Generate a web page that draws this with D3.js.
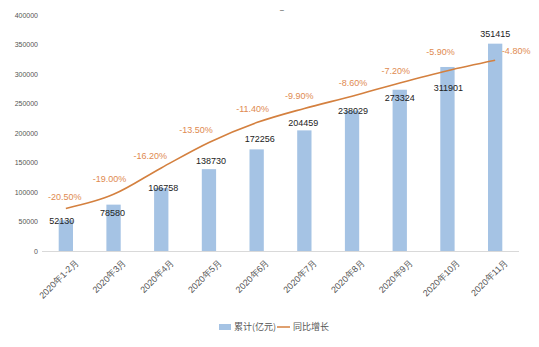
<!DOCTYPE html>
<html><head><meta charset="utf-8">
<script src="https://cdn.jsdelivr.net/npm/d3@7"></script>
<style>body{margin:0;background:#fff;}svg{display:block;font-family:"Noto Sans CJK SC","Liberation Sans",Arial,sans-serif;}</style>
</head><body><svg id="c" width="539" height="347"></svg>
<script>
const categories = ["2020年1-2月","2020年3月","2020年4月","2020年5月","2020年6月","2020年7月","2020年8月","2020年9月","2020年10月","2020年11月"];
const cumulative = [52130,78580,106758,138730,172256,204459,238029,273324,311901,351415];
const growth = [-20.5,-19.0,-16.2,-13.5,-11.4,-9.9,-8.6,-7.2,-5.9,-4.8];
const yTicks = [0,50000,100000,150000,200000,250000,300000,350000,400000];
const seriesNames = ["累计(亿元)","同比增长"];

// label placement offsets (layout, px)
const barLabelOffset = [[-4,1],[-1,8],[2,0],[2,-8],[3,-11],[-1,-8],[1,0],[0,8],[1,21],[0,-10]];
const lineLabelOffset = [[-1,-12],[-4,-16],[-11,-12],[-13,-13],[-4,-14],[-5,-13],[1,-13],[-4,-12],[-7,-19],[21,-9]];

(function(){
const svg = d3.select("#c");
const pl = 42, pr = 519, pt = 15, pb = 251;
const x = d3.scaleBand().domain(categories).range([pl,pr]).paddingInner(0.7).paddingOuter(0.35);
const y = d3.scaleLinear().domain([0,400000]).range([pb,pt]);
const y2 = d3.scaleLinear().domain([-25,0]).range([pb,pt]);
const cx = d => x(d) + x.bandwidth()/2;

const yAxis = svg.append("g").attr("transform",`translate(${pl},0)`)
  .call(d3.axisLeft(y).tickValues(yTicks).tickSize(0).tickPadding(4).tickFormat(d3.format("d")));
yAxis.select(".domain").remove();
yAxis.selectAll("text").attr("fill","#555").style("font-size","7px").style("font-family","Liberation Sans, Arial");

const xAxis = svg.append("g").attr("transform",`translate(0,${pb})`)
  .call(d3.axisBottom(x).tickSize(0).tickPadding(6));
xAxis.select(".domain").attr("stroke","#d9d9d9").attr("d",`M${pl},0.5H${pr}`);
xAxis.selectAll("text").attr("fill","#555").style("font-size","9px")
  .attr("text-anchor","end").attr("dy","0.3em")
  .attr("transform","translate(7,6) rotate(-45)");

svg.append("g").selectAll("rect").data(cumulative).join("rect")
  .attr("x",(d,i)=>x(categories[i])).attr("width",x.bandwidth())
  .attr("y",d=>y(d)).attr("height",d=>pb-y(d)).attr("fill","#a5c3e4");

const line = d3.line().x((d,i)=>cx(categories[i])).y(d=>y2(d)).curve(d3.curveMonotoneX);
svg.append("path").datum(growth).attr("d",line).attr("fill","none").attr("stroke","#d4803f").attr("stroke-width",1.6);

svg.append("g").selectAll("text").data(cumulative).join("text")
  .attr("x",(d,i)=>cx(categories[i])+barLabelOffset[i][0])
  .attr("y",(d,i)=>y(d)+barLabelOffset[i][1])
  .attr("dy","0.35em").attr("text-anchor","middle").attr("fill","#222")
  .style("font-size","9px").style("font-family","Liberation Sans, Arial").text(d=>d);

svg.append("g").selectAll("text").data(growth).join("text")
  .attr("x",(d,i)=>cx(categories[i])+lineLabelOffset[i][0])
  .attr("y",(d,i)=>y2(d)+lineLabelOffset[i][1])
  .attr("dy","0.35em").attr("text-anchor","middle").attr("fill","#e08a50")
  .style("font-size","9px").style("font-family","Liberation Sans, Arial").text(d=>d.toFixed(2)+"%");

svg.append("text").attr("x",282).attr("y",13).attr("text-anchor","middle").attr("fill","#555").style("font-size","9px").text("–");

const lg = svg.append("g");
lg.append("rect").attr("x",219).attr("y",324).attr("width",12).attr("height",6).attr("fill","#a5c3e4");
lg.append("text").attr("x",234).attr("y",327).attr("dy","0.35em").attr("fill","#555").style("font-size","9px").text(seriesNames[0]);
lg.append("line").attr("x1",277).attr("x2",290).attr("y1",327).attr("y2",327).attr("stroke","#d4803f").attr("stroke-width",1.5);
lg.append("text").attr("x",293).attr("y",327).attr("dy","0.35em").attr("fill","#555").style("font-size","9px").text(seriesNames[1]);
})();
</script></body></html>
